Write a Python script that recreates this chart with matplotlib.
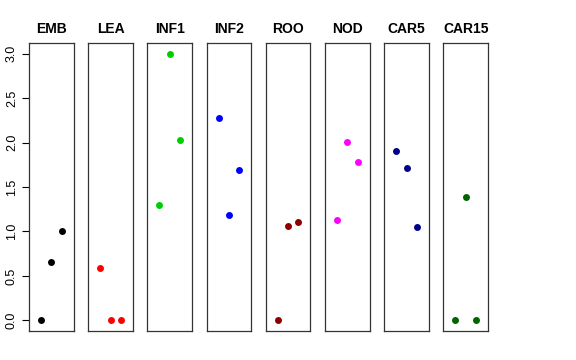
import matplotlib
matplotlib.use("Agg")
import matplotlib.pyplot as plt

plt.rcParams['font.family'] = ['Liberation Sans', 'DejaVu Sans']

# tejidos y valores (3 replicas cada uno)
tejidos = ['EMB', 'LEA', 'INF1', 'INF2', 'ROO', 'NOD', 'CAR5', 'CAR15']
valores = [
    [0.0, 0.66, 1.0],
    [0.59, 0.0, 0.0],
    [1.30, 3.0, 2.03],
    [2.28, 1.19, 1.69],
    [0.0, 1.065, 1.11],
    [1.13, 2.01, 1.78],
    [1.905, 1.71, 1.05],
    [0.0, 1.39, 0.0],
]
colores = ['black', 'red', '#00CD00', 'blue', '#8B0000', 'magenta', '#00008B', '#006400']
replicas = [1, 2, 3]
yticks = [0.0, 0.5, 1.0, 1.5, 2.0, 2.5, 3.0]

W, H = 576, 360
fig = plt.figure(figsize=(W / 100, H / 100), dpi=100)

izq0 = 29.0
paso = 59.2
ancho = 44.6
abajo = 331.0
alto = 288.0

for i, t in enumerate(tejidos):
    x0 = izq0 + i * paso
    ax = fig.add_axes([x0 / W, (H - abajo) / H, ancho / W, alto / H])
    ax.plot(replicas, valores[i], 'o', color=colores[i], ms=5, mec='none')
    ax.set_xlim(-0.16, 4.16)
    ax.set_ylim(-0.12, 3.12)
    ax.set_xticks([])
    for s in ax.spines.values():
        s.set_color('#333333')
        s.set_linewidth(0.9)
    ax.set_title(t, fontsize=10, fontweight='bold', pad=7)
    if i == 0:
        ax.set_yticks(yticks)
        ax.set_yticklabels(['%.1f' % v for v in yticks], rotation=90, va='center', fontsize=9)
        ax.tick_params(axis='y', length=5, width=0.8, pad=3)
    else:
        ax.set_yticks([])

fig.savefig('out.png', dpi=100)
